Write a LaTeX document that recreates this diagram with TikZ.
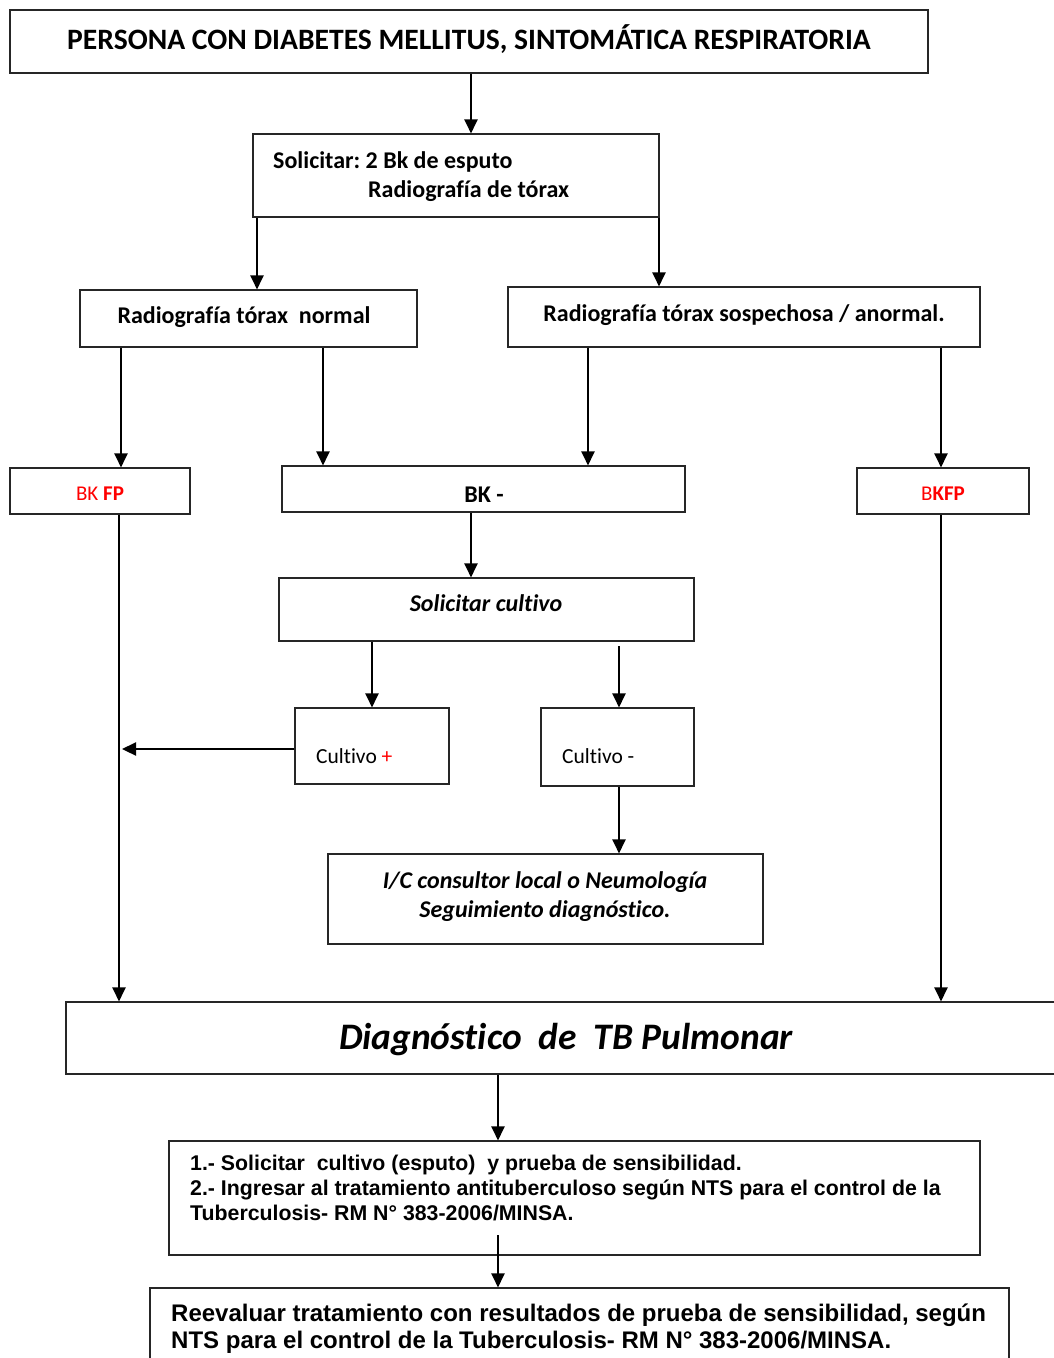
\documentclass[tikz,border=0pt]{standalone}
\usepackage{fontspec}
\newfontfamily\calfont[Ligatures=CommonOff]{Carlito}
\newfontfamily\arfont{Liberation Sans}
\usetikzlibrary{arrows.meta}
\begin{document}
\begin{tikzpicture}[x=1pt,y=-1pt,
  box/.style={draw=black!85, line width=1.1pt, inner sep=0pt},
  arr/.style={line width=2.2pt, -{Triangle[width=13pt,length=14pt]}},
  tb/.style={inner sep=0pt, text height=0.62em, text depth=0pt, font=\calfont\bfseries\fontsize{24}{28}\selectfont},
  tr/.style={inner sep=0pt, text height=0.62em, text depth=0pt, font=\calfont\fontsize{21.5}{25}\selectfont},
  tbi/.style={inner sep=0pt, text height=0.62em, text depth=0pt, font=\calfont\bfseries\itshape\fontsize{24}{28}\selectfont},
  ta/.style={inner sep=0pt, text height=0.72em, text depth=0pt, anchor=west, font=\arfont\bfseries\fontsize{21.3}{25}\selectfont},
]
\useasboundingbox (0,0) rectangle (1053,1358);

% boxes
\node[box, minimum width=918, minimum height=63] (title) at (469,41.5) {};
\node[box, minimum width=406, minimum height=83] (sol) at (456,175.5) {};
\node[box, minimum width=337, minimum height=57] (rn) at (248.5,318.5) {};
\node[box, minimum width=472, minimum height=60] (rs) at (744,317) {};
\node[box, minimum width=180, minimum height=46] (bkfp1) at (100,491) {};
\node[box, minimum width=403, minimum height=46] (bkm) at (483.5,489) {};
\node[box, minimum width=172, minimum height=46] (bkfp2) at (943,491) {};
\node[box, minimum width=415, minimum height=63] (solc) at (486.5,609.5) {};
\node[box, minimum width=154, minimum height=76] (cp) at (372,746) {};
\node[box, minimum width=153, minimum height=78] (cm) at (617.5,747) {};
\node[box, minimum width=435, minimum height=90] (ic) at (545.5,899) {};
\node[box, minimum width=1010, minimum height=72] (dx) at (571,1038) {};
\node[box, minimum width=811, minimum height=114] (s1) at (574.5,1198) {};
\node[box, minimum width=859, minimum height=100] (s2) at (579.5,1338) {};

% texts
\node[tb, font=\calfont\bfseries\fontsize{29.6}{34}\selectfont] (t-title) at (469,46) {PERSONA CON DIABETES MELLITUS, SINTOMÁTICA RESPIRATORIA};
\node[tb, anchor=west] (t-sol1) at (273,165) {Solicitar:\ 2 Bk de esputo};
\node[tb, anchor=west] (t-sol2) at (368,194) {Radiografía de tórax};
\node[tb] (t-rn) at (244,320) {Radiografía tórax\ \ normal};
\node[tb] (t-rs) at (744,318) {Radiografía tórax sospechosa / anormal.};
\node[tb, red, font=\calfont\bfseries\fontsize{21}{25}\selectfont] (t-bkfp1) at (100,497) {{\mdseries BK} FP};
\node[tb] (t-bkm) at (484,499) {BK -};
\node[tb, red, font=\calfont\bfseries\fontsize{21}{25}\selectfont] (t-bkfp2) at (943,497) {{\mdseries B}KFP};
\node[tbi] (t-solc) at (486,608) {Solicitar cultivo};
\node[tr, anchor=west] (t-cp) at (316,760) {Cultivo \textcolor{red}{+}};
\node[tr, anchor=west] (t-cm) at (562,760) {Cultivo -};
\node[tbi] (t-ic1) at (545,885) {I/C consultor local o Neumología};
\node[tbi] (t-ic2) at (545,914) {Seguimiento diagnóstico.};
\node[tbi, font=\calfont\bfseries\itshape\fontsize{37.4}{42}\selectfont] (t-dx) at (566,1046) {Diagnóstico\ \ de\ \ TB Pulmonar};
\node[ta] (t-s1a) at (190,1167) {1.- Solicitar\ \ cultivo (esputo)\ \ y prueba de sensibilidad.};
\node[ta] (t-s1b) at (190,1192) {2.- Ingresar al tratamiento antituberculoso según NTS para el control de la};
\node[ta] (t-s1c) at (190,1217) {Tuberculosis- RM N° 383-2006/MINSA.};
\node[ta, font=\arfont\bfseries\fontsize{24}{28}\selectfont] (t-s2a) at (171,1318) {Reevaluar tratamiento con resultados de prueba de sensibilidad, según};
\node[ta, font=\arfont\bfseries\fontsize{24}{28}\selectfont] (t-s2b) at (171,1345) {NTS para el control de la Tuberculosis- RM N° 383-2006/MINSA.};

% free-end coordinates
\coordinate (c10) at (619,646);
\coordinate (cpin) at (122,749);
\coordinate (c16) at (498,1235);

% connectors
\draw[arr] (title.south -| 471,0) -- (sol.north -| 471,0);
\draw[arr] (sol.south -| 257,0) -- (rn.north -| 257,0);
\draw[arr] (sol.south -| 659,0) -- (rs.north -| 659,0);
\draw[arr] (rn.south -| 121,0) -- (bkfp1.north -| 121,0);
\draw[arr] (rn.south -| 323,0) -- (bkm.north -| 323,0);
\draw[arr] (rs.south -| 588,0) -- (bkm.north -| 588,0);
\draw[arr] (rs.south -| 941,0) -- (bkfp2.north -| 941,0);
\draw[arr] (bkm.south -| 471,0) -- (solc.north -| 471,0);
\draw[arr] (solc.south -| 372,0) -- (cp.north -| 372,0);
\draw[arr] (c10) -- (cm.north -| c10);
\draw[arr] (cm.south -| 619,0) -- (ic.north -| 619,0);
\draw[arr] (bkfp1.south -| 119,0) -- (dx.north -| 119,0);
\draw[arr] (bkfp2.south -| 941,0) -- (dx.north -| 941,0);
\draw[arr] (cp.west |- cpin) -- (cpin);
\draw[arr] (dx.south -| 498,0) -- (s1.north -| 498,0);
\draw[arr] (c16) -- (s2.north -| c16);
\end{tikzpicture}
\end{document}
